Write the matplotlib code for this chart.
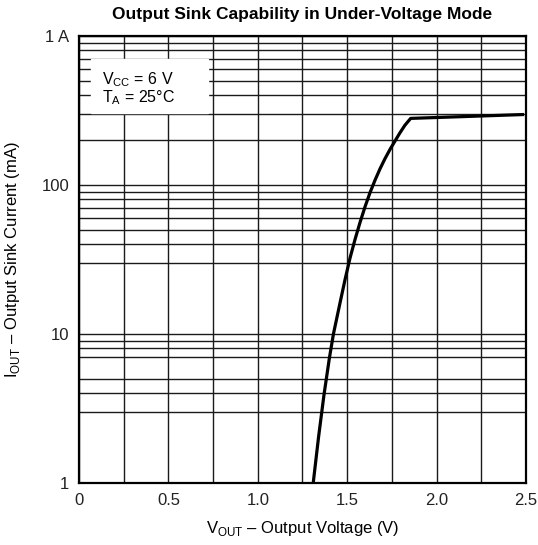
import matplotlib.pyplot as plt
from matplotlib.ticker import FixedLocator, NullFormatter, NullLocator
from matplotlib import font_manager

# sink current curve
vout = [1.31, 1.34, 1.37, 1.40, 1.423, 1.46, 1.488, 1.516, 1.544, 1.572, 1.600,
        1.628, 1.656, 1.683, 1.711, 1.739, 1.767, 1.795, 1.823, 1.855, 2.48]
iout = [1.0, 2.04, 3.89, 6.84, 10.0, 16.2, 23.2, 32.4, 43.2, 56.2, 71.6,
        89.1, 108.0, 128.0, 150.0, 173.0, 197.0, 224.0, 252.0, 280.0, 297.0]

x_ticks = [0, 0.5, 1.0, 1.5, 2.0, 2.5]
x_tick_labels = ['0', '0.5', '1.0', '1.5', '2.0', '2.5']
x_grid = [0.25 * i for i in range(11)]
y_ticks = [1, 10, 100, 1000]
y_tick_labels = ['1', '10', '100', '1 A']
# horizontal rules as printed on the sheet (a few minor lines are absent there)
y_grid = [1, 3, 4, 5, 7, 8, 9,
          10, 30, 40, 50, 60, 70, 80, 90,
          100, 200, 300, 400, 500, 600, 700, 800, 900, 1000]

names = {f.name for f in font_manager.fontManager.ttflist}
font = 'Liberation Sans Narrow' if 'Liberation Sans Narrow' in names else 'Liberation Sans'
plt.rcParams['font.family'] = [font, 'DejaVu Sans']
plt.rcParams['mathtext.fontset'] = 'custom'
plt.rcParams['mathtext.rm'] = font

fig = plt.figure(figsize=(5.38, 5.45), dpi=100)
ax = fig.add_axes([0.1468, 0.1138, 0.8309, 0.8201])

ax.set_xlim(0, 2.5)
ax.set_yscale('log')
ax.set_ylim(1, 1000)

for x in x_grid:
    ax.axvline(x, color='#1a1a1a', lw=1.0, zorder=1)
for y in y_grid:
    ax.axhline(y, color='#1a1a1a', lw=1.0, zorder=1)

ax.plot(vout, iout, color='black', lw=2.3, zorder=4)

# white label box hiding the grid
ax.axvspan(0.065, 0.72, ymin=0.827, ymax=0.948, color='white', zorder=2)
ax.text(0.051, 0.892, r'V$_{\mathrm{CC}}$ = 6 V', transform=ax.transAxes,
        fontsize=11.5, zorder=3, va='baseline')
ax.text(0.051, 0.852, r'T$_{\mathrm{A}}$ = 25°C', transform=ax.transAxes,
        fontsize=11.5, zorder=3, va='baseline')

ax.xaxis.set_major_locator(FixedLocator(x_ticks))
ax.set_xticklabels(x_tick_labels)
ax.yaxis.set_major_locator(FixedLocator(y_ticks))
ax.yaxis.set_minor_locator(NullLocator())
ax.yaxis.set_minor_formatter(NullFormatter())
ax.set_yticklabels(y_tick_labels)
ax.tick_params(length=0, labelsize=12, pad=7, colors='#222222')

for s in ax.spines.values():
    s.set_linewidth(1.6)
    s.set_zorder(5)

ax.set_title('Output Sink Capability in Under-Voltage Mode', fontsize=12.5,
             fontweight='bold', pad=12)
ax.set_xlabel(r'V$_{\mathrm{OUT}}$ – Output Voltage (V)', fontsize=12, labelpad=8)
ax.set_ylabel(r'I$_{\mathrm{OUT}}$ – Output Sink Current (mA)', fontsize=12, labelpad=14)

fig.savefig('out.png', dpi=100)
